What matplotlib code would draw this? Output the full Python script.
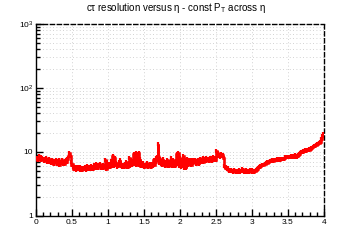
import numpy as np
import matplotlib
matplotlib.use("Agg")
import matplotlib.pyplot as plt
from matplotlib.ticker import FixedLocator, FixedFormatter, MultipleLocator, NullFormatter

plt.rcParams['font.family'] = ['Liberation Sans', 'DejaVu Sans']
plt.rcParams['mathtext.fontset'] = 'custom'
plt.rcParams['mathtext.rm'] = 'Liberation Sans'
plt.rcParams['mathtext.it'] = 'Liberation Sans:italic'

# eta bins 0..4, 400 bins (0.01 wide), one row = 0.2 in eta
eta_lo, eta_hi = 0.0, 4.0
ctau_res = [
    # 0.0 - 0.2
    7.8, 8.0, 7.5, 8.3, 8.8, 7.9, 8.4, 7.6, 8.1, 7.7, 7.9, 7.2, 7.6, 8.2, 7.4, 7.0, 7.5, 7.1, 7.8, 6.9,
    # 0.2 - 0.4
    7.3, 6.8, 7.6, 7.1, 6.6, 7.2, 6.9, 7.4, 7.0, 6.5, 6.8, 7.5, 6.3, 7.1, 6.7, 6.9, 7.6, 6.6, 7.0, 6.5,
    # 0.4 - 0.6
    7.2, 7.6, 7.0, 7.8, 8.0, 8.6, 9.8, 8.6, 7.0, 6.2, 6.4, 5.8, 5.5, 5.9, 5.6, 5.3, 5.8, 5.5, 5.9, 5.4,
    # 0.6 - 0.8
    5.8, 5.3, 5.6, 5.2, 5.5, 5.7, 5.4, 5.9, 5.6, 5.3, 5.7, 6.0, 5.5, 5.8, 5.4, 5.6, 6.1, 5.7, 5.5, 5.9,
    # 0.8 - 1.0
    6.2, 5.8, 5.6, 6.5, 6.0, 5.7, 6.4, 6.1, 6.6, 6.2, 5.6, 5.9, 6.3, 5.7, 6.0, 5.8, 7.4, 5.5, 6.9, 6.2,
    # 1.0 - 1.2
    6.0, 6.6, 5.8, 6.3, 7.2, 6.1, 8.6, 6.4, 6.0, 8.2, 6.2, 6.8, 5.9, 6.4, 6.1, 6.9, 7.4, 6.3, 6.0, 5.8,
    # 1.2 - 1.4
    6.4, 6.1, 5.8, 6.6, 6.2, 7.1, 6.5, 5.9, 6.3, 8.2, 6.1, 6.8, 7.6, 6.2, 6.9, 9.4, 6.4, 7.7, 9.8, 6.3,
    # 1.4 - 1.6
    9.0, 6.6, 9.6, 6.2, 7.8, 6.0, 6.5, 6.2, 6.8, 6.1, 5.8, 6.4, 6.0, 6.7, 6.2, 5.9, 6.3, 6.0, 6.5, 5.8,
    # 1.6 - 1.8
    6.2, 6.6, 6.0, 7.4, 6.2, 7.0, 8.2, 7.6, 8.5, 13.3, 8.5, 6.8, 7.8, 6.4, 7.0, 6.2, 7.8, 6.5, 6.9, 6.1,
    # 1.8 - 2.0
    6.8, 6.2, 7.4, 6.5, 6.0, 6.9, 6.3, 8.0, 6.7, 6.1, 7.5, 6.4, 6.0, 6.8, 6.3, 9.2, 6.5, 9.6, 6.1, 8.0,
    # 2.0 - 2.2
    6.5, 5.8, 7.6, 6.1, 8.6, 5.6, 6.4, 7.2, 5.6, 7.8, 6.2, 7.6, 6.5, 7.4, 7.1, 6.3, 7.4, 6.8, 7.6, 7.0,
    # 2.2 - 2.4
    7.2, 7.6, 6.6, 7.0, 7.4, 7.2, 6.5, 7.8, 7.4, 6.9, 7.3, 8.0, 7.0, 7.3, 7.8, 7.2, 8.1, 7.4, 7.5, 7.8,
    # 2.4 - 2.6
    7.2, 8.1, 7.6, 8.2, 7.3, 8.4, 7.8, 7.5, 8.0, 7.6, 10.3, 9.2, 9.6, 8.6, 9.0, 8.4, 8.8, 9.4, 8.6, 8.9,
    # 2.6 - 2.8
    8.2, 6.1, 5.8, 5.6, 5.9, 5.4, 5.6, 5.3, 5.1, 5.3, 5.0, 5.2, 5.1, 4.9, 5.2, 5.3, 5.1, 4.9, 5.0, 5.1,
    # 2.8 - 3.0
    4.9, 5.0, 5.2, 4.9, 5.0, 5.1, 5.4, 5.3, 5.0, 4.9, 5.0, 5.2, 4.9, 5.0, 5.1, 4.9, 5.0, 5.2, 5.0, 5.3,
    # 3.0 - 3.2
    4.9, 5.0, 4.8, 5.0, 5.1, 5.3, 5.2, 5.5, 5.6, 5.8, 5.9, 6.1, 6.0, 6.2, 6.3, 6.2, 6.4, 6.5, 6.6, 6.8,
    # 3.2 - 3.4
    6.9, 6.8, 7.1, 7.0, 7.2, 7.3, 7.2, 7.4, 7.5, 7.3, 7.5, 7.6, 7.5, 7.6, 7.7, 7.5, 7.6, 7.7, 7.6, 7.8,
    # 3.4 - 3.6
    7.7, 7.8, 7.7, 7.9, 7.8, 8.0, 8.5, 8.5, 8.5, 8.5, 8.5, 8.5, 8.5, 8.5, 8.6, 8.5, 8.6, 8.4, 8.7, 9.0,
    # 3.6 - 3.8
    8.5, 8.6, 8.5, 8.8, 9.0, 9.3, 9.6, 9.9, 10.0, 10.2, 10.1, 10.4, 10.3, 10.6, 10.5, 10.8, 10.7, 10.9, 11.0, 10.8,
    # 3.8 - 4.0
    11.0, 11.3, 11.5, 11.8, 12.0, 12.2, 12.5, 12.3, 12.8, 13.0, 13.2, 13.5, 13.8, 14.0, 14.5, 14.2, 16.0, 18.0, 19.5, 19.0,
]

y_ticks = [1, 10, 100, 1000]
y_tick_labels = ['1', '10', r'$10^{2}$', r'$10^{3}$']
x_ticks = [0, 0.5, 1, 1.5, 2, 2.5, 3, 3.5, 4]
x_tick_labels = ['0', '0.5', '1', '1.5', '2', '2.5', '3', '3.5', '4']

edges = np.linspace(eta_lo, eta_hi, len(ctau_res) + 1)
centers = 0.5 * (edges[:-1] + edges[1:])
vals = np.array(ctau_res)

fig = plt.figure(figsize=(3.6, 2.4), dpi=100)
ax = fig.add_axes([0.1, 0.1, 0.8, 0.8])

ax.set_yscale('log')
ax.set_xlim(eta_lo, eta_hi)
ax.set_ylim(1, 1000)

# grid: y at all decades and sub-decades, x at majors
minor_y = [m * 10 ** d for d in range(0, 3) for m in range(2, 10)]
for yv in minor_y + y_ticks:
    ax.axhline(yv, color='#c4c4c4', lw=0.6, ls=(0, (1, 3)), zorder=0)
for xv in x_ticks:
    ax.axvline(xv, color='#c4c4c4', lw=0.6, ls=(0, (1, 3)), zorder=0)

ax.stairs(ctau_res, edges, color='black', lw=1.0, baseline=None, zorder=2)
ax.stairs(ctau_res, edges, color='red', lw=1.8, baseline=None, zorder=3)
# red error bars over the histogram (ROOT E style)
ax.errorbar(centers, vals, xerr=0.005, yerr=0.07 * vals, fmt='none',
            ecolor='red', elinewidth=1.6, capsize=0, zorder=3)

ax.yaxis.set_major_locator(FixedLocator(y_ticks))
ax.yaxis.set_major_formatter(FixedFormatter(y_tick_labels))
ax.yaxis.set_minor_locator(FixedLocator(minor_y))
ax.yaxis.set_minor_formatter(NullFormatter())
ax.xaxis.set_major_locator(FixedLocator(x_ticks))
ax.xaxis.set_major_formatter(FixedFormatter(x_tick_labels))
ax.xaxis.set_minor_locator(MultipleLocator(0.1))

ax.tick_params(which='both', direction='in', top=False, right=False, labelsize=6, width=1)
ax.tick_params(which='major', length=5, pad=2)
ax.tick_params(which='minor', length=2.8)

for s in ('left', 'bottom'):
    ax.spines[s].set_linewidth(1)
for s in ('top', 'right'):
    ax.spines[s].set_linestyle((0, (3, 2)))
    ax.spines[s].set_linewidth(1)

fig.text(0.49, 0.965, 'cτ resolution versus η - const P$_{\\mathrm{T}}$ across η',
         ha='center', va='center', fontsize=7)

fig.savefig('out.png', dpi=100)
